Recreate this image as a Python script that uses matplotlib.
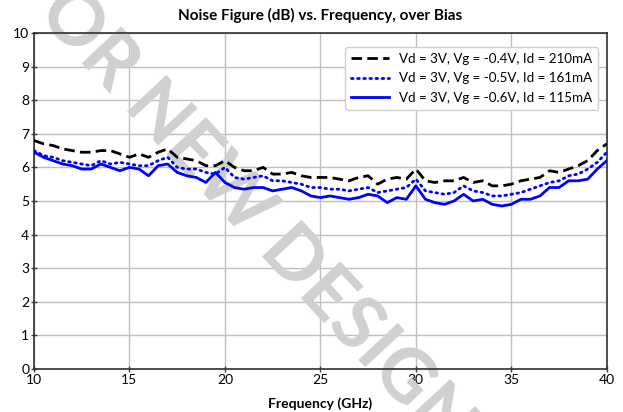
import matplotlib
matplotlib.use("Agg")
import matplotlib.pyplot as plt
import numpy as np

plt.rcParams["font.family"] = ["Lato", "DejaVu Sans"]

# frequency points (GHz), 0.5 GHz step
freq_ghz = np.arange(10.0, 40.01, 0.5)

nf_210ma = [6.80, 6.70, 6.65, 6.55, 6.50, 6.45, 6.45, 6.50, 6.50, 6.40,
            6.30, 6.40, 6.30, 6.45, 6.55, 6.30, 6.25, 6.20, 6.05, 6.05,
            6.20, 6.00, 5.90, 5.90, 6.00, 5.80, 5.80, 5.85, 5.75, 5.70,
            5.70, 5.70, 5.65, 5.60, 5.70, 5.75, 5.50, 5.65, 5.70, 5.65,
            5.95, 5.60, 5.55, 5.60, 5.60, 5.70, 5.55, 5.60, 5.45, 5.45,
            5.50, 5.60, 5.65, 5.70, 5.90, 5.85, 5.95, 6.05, 6.20, 6.50,
            6.70]

nf_161ma = [6.50, 6.35, 6.30, 6.20, 6.15, 6.10, 6.05, 6.20, 6.10, 6.15,
            6.10, 6.05, 6.05, 6.20, 6.30, 6.00, 5.95, 5.95, 5.85, 5.80,
            6.00, 5.70, 5.65, 5.70, 5.75, 5.60, 5.60, 5.55, 5.50, 5.40,
            5.40, 5.35, 5.35, 5.30, 5.35, 5.40, 5.25, 5.30, 5.35, 5.40,
            5.65, 5.30, 5.25, 5.20, 5.25, 5.45, 5.30, 5.25, 5.15, 5.15,
            5.20, 5.25, 5.35, 5.45, 5.55, 5.60, 5.75, 5.80, 5.95, 6.15,
            6.45]

nf_115ma = [6.45, 6.30, 6.20, 6.10, 6.05, 5.95, 5.95, 6.10, 6.00, 5.90,
            6.00, 5.95, 5.75, 6.05, 6.10, 5.85, 5.75, 5.70, 5.55, 5.85,
            5.55, 5.40, 5.35, 5.40, 5.40, 5.30, 5.35, 5.40, 5.30, 5.15,
            5.10, 5.15, 5.10, 5.05, 5.10, 5.20, 5.15, 4.95, 5.10, 5.05,
            5.45, 5.05, 4.95, 4.90, 5.00, 5.20, 5.00, 5.05, 4.90, 4.85,
            4.90, 5.05, 5.05, 5.15, 5.40, 5.40, 5.60, 5.60, 5.65, 5.95,
            6.20]

labels = ["Vd = 3V, Vg = -0.4V, Id = 210mA",
          "Vd = 3V, Vg = -0.5V, Id = 161mA",
          "Vd = 3V, Vg = -0.6V, Id = 115mA"]

fig = plt.figure(figsize=(6.23, 4.12), dpi=100)
ax = fig.add_axes([0.0546, 0.1044, 0.9194, 0.8156])

ax.plot(freq_ghz, nf_210ma, color="black", lw=2, ls=(0, (3.8, 1.9)), label=labels[0], zorder=3)
ax.plot(freq_ghz, nf_161ma, color="#0000ff", lw=2, ls=(0, (0.6, 1.6)),
        dash_capstyle="round", label=labels[1], zorder=3)
ax.plot(freq_ghz, nf_115ma, color="#0000ff", lw=2, ls="-", label=labels[2], zorder=3)

ax.set_xlim(10, 40)
ax.set_ylim(0, 10)
ax.set_xticks(range(10, 41, 5))
ax.set_yticks(range(0, 11))
ax.grid(True, color="#bfbfbf", lw=1)
ax.set_axisbelow(True)
ax.tick_params(labelsize=10, direction="inout", length=5, width=1, color="#404040", pad=1)
for s in ax.spines.values():
    s.set_color("#303030")
    s.set_linewidth(1.2)

ax.set_title("Noise Figure (dB) vs. Frequency, over Bias", fontsize=11, fontweight="bold", pad=9)
ax.set_xlabel("Frequency (GHz)", fontsize=10, fontweight="bold", labelpad=8)

ax.legend(loc="upper right", fontsize=9.6, frameon=True, edgecolor="#d0d0d0",
          handlelength=2.8, borderpad=0.45, labelspacing=0.55, framealpha=1,
          bbox_to_anchor=(0.997, 0.978))

# watermark
ax.text(0.31, 0.63, "NOT FOR NEW DESIGNS", transform=fig.transFigure, rotation=-47,
        fontsize=54, fontweight="bold", color="#d0d0d0", ha="center", va="center",
        clip_on=False, zorder=1)

fig.savefig("out.png", dpi=100)
